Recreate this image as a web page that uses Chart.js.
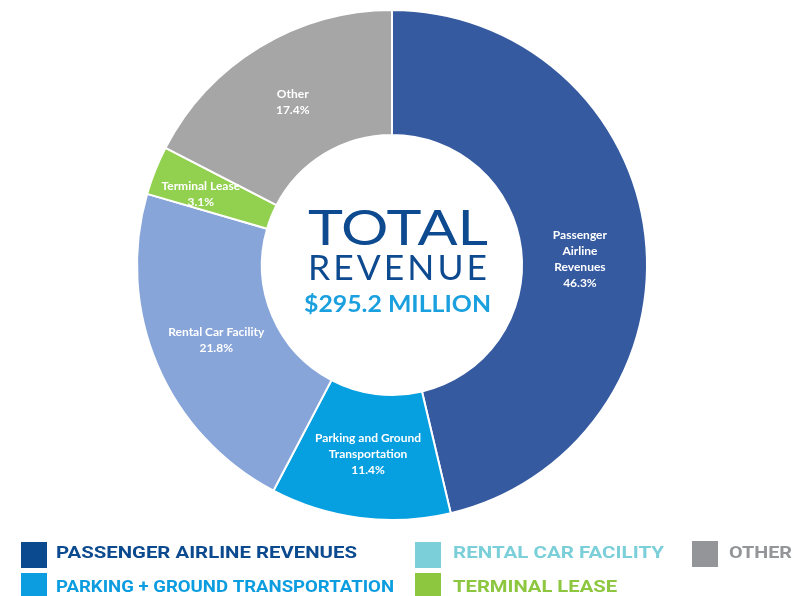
<!DOCTYPE html>
<html>
<head>
<meta charset="utf-8">
<script src="https://cdn.jsdelivr.net/npm/chart.js@4/dist/chart.umd.min.js"></script>
<style>
  html, body { margin: 0; padding: 0; background: #ffffff; }
  #wrap { width: 800px; height: 596px; position: relative; overflow: hidden; }
</style>
</head>
<body>
<div id="wrap"><canvas id="revenueChart" width="800" height="596"></canvas></div>
<script>
// Revenue sources, share of total (%)
const categories = ['Passenger Airline Revenues', 'Parking and Ground Transportation', 'Rental Car Facility', 'Terminal Lease', 'Other'];
const shares = [46.3, 11.4, 21.8, 3.1, 17.4];
// Slice label text, wrapped per line
const sliceLabelLines = [
  ['Passenger', 'Airline', 'Revenues'],
  ['Parking and Ground', 'Transportation'],
  ['Rental Car Facility'],
  ['Terminal Lease'],
  ['Other']
];
// Legend captions
const legendNames = ['PASSENGER AIRLINE REVENUES', 'PARKING + GROUND TRANSPORTATION', 'RENTAL CAR FACILITY', 'TERMINAL LEASE', 'OTHER'];
// Centre caption
const centreTitle = ['TOTAL', 'REVENUE'];
const centreAmount = '$295.2 MILLION';

const sliceColors = ['#355aa0', '#069fe0', '#87a5d8', '#92d050', '#a6a6a6'];
const legendColors = ['#0b4a8e', '#0b9ddf', '#7acfd9', '#8dc63f', '#939598'];
const NAVY = '#0d4a8f';
const SKY = '#1a9fdf';

// Draw text stretched/compressed horizontally to span [left, right]
function fitText(ctx, text, left, right, baseline, font, color, spacing) {
  ctx.save();
  ctx.font = font;
  ctx.fillStyle = color;
  ctx.letterSpacing = spacing || '0px';
  ctx.textAlign = 'left';
  ctx.textBaseline = 'alphabetic';
  const w = ctx.measureText(text).width;
  ctx.translate(left, baseline);
  ctx.scale((right - left) / w, 1);
  ctx.fillText(text, 0, 0);
  ctx.restore();
}

// Slice labels: name lines followed by the percentage.
// Each label sits at a given radius, optionally nudged along the ring (degrees).
const sliceLabelPlugin = {
  id: 'sliceLabels',
  afterDatasetsDraw(chart, args, opts) {
    const ctx = chart.ctx;
    const meta = chart.getDatasetMeta(0);
    const values = chart.data.datasets[0].data;
    ctx.save();
    ctx.font = 'bold 12px Lato';
    ctx.fillStyle = '#ffffff';
    ctx.textAlign = 'center';
    ctx.textBaseline = 'middle';
    meta.data.forEach((arc, i) => {
      const p = arc.getProps(['x', 'y', 'startAngle', 'endAngle'], true);
      const a = opts.anchor[i];
      const mid = (p.startAngle + p.endAngle) / 2 + a.shift * Math.PI / 180;
      const cx = p.x + Math.cos(mid) * a.r;
      const cy = p.y + Math.sin(mid) * a.r;
      const lines = sliceLabelLines[i].concat([values[i].toFixed(1) + '%']);
      const lh = 16;
      const top = cy - (lines.length - 1) * lh / 2;
      lines.forEach((t, k) => ctx.fillText(t, cx, top + k * lh));
    });
    ctx.restore();
  }
};

// Caption in the doughnut hole
const centrePlugin = {
  id: 'centreText',
  afterDraw(chart) {
    const ctx = chart.ctx;
    fitText(ctx, centreTitle[0], 308, 488, 245, '400 49px Lato', NAVY);
    fitText(ctx, centreTitle[1], 308, 490, 280, '400 35px Lato', NAVY, '3px');
    fitText(ctx, centreAmount, 304, 491, 312, 'bold 22px Lato', SKY);
  }
};

// Two-row legend beneath the chart
const legendPlugin = {
  id: 'bottomLegend',
  afterDraw(chart) {
    const ctx = chart.ctx;
    const slots = [
      { sx: 21, sy: 542, tx: 56, tr: 357, base: 558 },
      { sx: 21, sy: 573, tx: 56, tr: 394, base: 592 },
      { sx: 415, sy: 542, tx: 453, tr: 664, base: 558 },
      { sx: 415, sy: 573, tx: 453, tr: 617, base: 592 },
      { sx: 692, sy: 541, tx: 729, tr: 792, base: 558 }
    ];
    legendNames.forEach((name, i) => {
      const s = slots[i];
      ctx.fillStyle = legendColors[i];
      ctx.fillRect(s.sx, s.sy, 26, 26);
      fitText(ctx, name, s.tx, s.tr, s.base, 'bold 16px Roboto', legendColors[i]);
    });
  }
};

new Chart(document.getElementById('revenueChart'), {
  type: 'doughnut',
  data: {
    labels: categories,
    datasets: [{
      data: shares,
      backgroundColor: sliceColors,
      borderColor: '#ffffff',
      borderWidth: 2,
      hoverOffset: 0
    }]
  },
  options: {
    responsive: false,
    devicePixelRatio: 1,
    animation: false,
    cutout: '51%',
    layout: { padding: { left: 136, right: 152, top: 9, bottom: 75 } },
    plugins: {
      legend: { display: false },
      tooltip: { enabled: false },
      sliceLabels: {
        anchor: [
          { r: 188, shift: 4.9 },
          { r: 191, shift: 0 },
          { r: 191, shift: 0 },
          { r: 204, shift: -1.4 },
          { r: 191, shift: 0 }
        ]
      }
    }
  },
  plugins: [sliceLabelPlugin, centrePlugin, legendPlugin]
});
</script>
</body>
</html>
